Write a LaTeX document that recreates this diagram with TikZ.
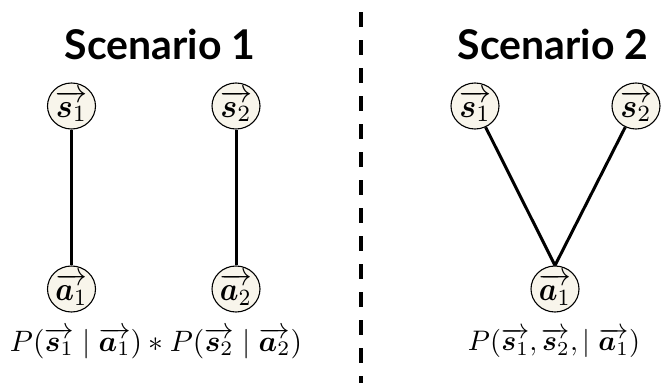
\documentclass[tikz,border=0pt]{standalone}
\usepackage{amsmath}
\usepackage{bm}
\usepackage{graphicx}
\usepackage{fontspec}
\newfontfamily\titlefont{Lato}
\usetikzlibrary{shapes.geometric}
\definecolor{nodefill}{HTML}{F8F5EB}
\tikzset{
  var/.style={ellipse, draw=black, line width=1.1pt, fill=nodefill,
    minimum width=48pt, minimum height=46pt, inner sep=0pt},
  edge/.style={line width=3pt, black},
  title/.style={inner sep=0pt, font=\titlefont\bfseries\fontsize{41}{46}\selectfont},
  formula/.style={inner sep=0pt},
  divider/.style={line width=4pt, dash pattern=on 15pt off 13pt}
}
\newcommand{\vs}[1]{\overrightarrow{\bm{s}_{#1}}}
\newcommand{\va}[1]{\overrightarrow{\bm{a}_{#1}}}
\newcommand{\inode}[1]{\resizebox{32pt}{27pt}{$#1$}}
\begin{document}
\begin{tikzpicture}[x=1pt,y=-1pt]
\useasboundingbox (0,0) rectangle (665,383);
% titles
\node[title] (t1) at (160,44) {Scenario 1};
\node[title] (t2) at (553,44) {Scenario 2};
% divider
\coordinate (dtop) at (361,12);
\coordinate (dbot) at (361,383);
\draw[divider] (dtop) -- (dbot);
% scenario 1
\node[var] (s1) at (71.5,106) {\inode{\vs{1}}};
\node[var] (s2) at (236,106) {\inode{\vs{2}}};
\node[var] (a1) at (71.5,289) {\inode{\va{1}}};
\node[var] (a2) at (236,289) {\inode{\va{2}}};
\draw[edge] (s1) -- (a1);
\draw[edge] (s2) -- (a2);
% scenario 2
\node[var] (r1) at (475,106) {\inode{\vs{1}}};
\node[var] (r2) at (636,106) {\inode{\vs{2}}};
\node[var] (b1) at (555,289) {\inode{\va{1}}};
\draw[edge] (r1) -- (b1.north);
\draw[edge] (r2) -- (b1.north);
% formulas
\node[formula] (f1) at (156,343) {\resizebox{292pt}{!}{$P(\vs{1}\mid\va{1}) * P(\vs{2}\mid\va{2})$}};
\node[formula] (f2) at (554,343) {\resizebox{172pt}{!}{$P(\vs{1},\vs{2},\mid\va{1})$}};
\end{tikzpicture}
\end{document}
